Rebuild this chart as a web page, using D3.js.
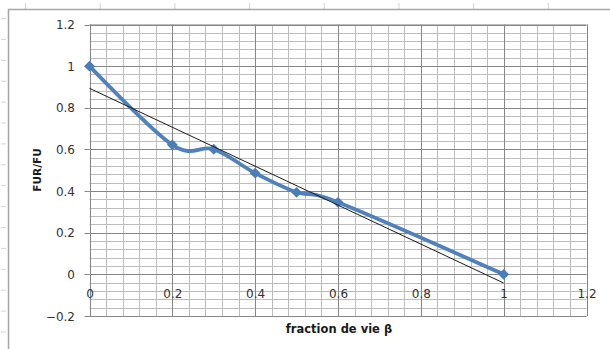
<!DOCTYPE html>
<html>
<head>
<meta charset="utf-8">
<script src="https://cdn.jsdelivr.net/npm/d3@7"></script>
<style>
  body { margin: 0; background: #fff; }
  svg { display: block; }
</style>
</head>
<body>
<div class="canvas"></div>
<script>
// data
var beta = [0, 0.2, 0.3, 0.4, 0.5, 0.6, 1];
var fur = [1, 0.622, 0.601, 0.486, 0.394, 0.346, 0];
var xTicks = [0, 0.2, 0.4, 0.6, 0.8, 1, 1.2];
var yTicks = [-0.2, 0, 0.2, 0.4, 0.6, 0.8, 1, 1.2];
var xTitle = "fraction de vie \u03b2";
var yTitle = "FUR/FU";

var svg = d3.select(".canvas").append("svg").attr("width", 610).attr("height", 349);

plot = { 'left': 89.5, 'right': 586.5, 'top': 24.5, 'bottom': 316 };

var x = d3.scaleLinear().domain([0, 1.2]).range([plot.left, plot.right]);
var y = d3.scaleLinear().domain([-0.2, 1.2]).range([plot.bottom, plot.top]);

// faint spreadsheet cell marks behind the chart frame
for (let i = 0; i < 8; i++) {
    svg.append("line")
        .attr("x1", 25.5 + i * 74.7).attr("x2", 25.5 + i * 74.7)
        .attr("y1", 3).attr("y2", 9)
        .attr("stroke", "#d4d4d4");
}
for (let i = 0; i < 16; i++) {
    svg.append("line")
        .attr("x1", 1).attr("x2", 6)
        .attr("y1", 18.5 + i * 20.9).attr("y2", 18.5 + i * 20.9)
        .attr("stroke", "#d4d4d4");
}

// chart frame (top and left edges visible)
svg.append("path")
    .attr("d", "M8.5,349 L8.5,9.5 L610,9.5")
    .attr("fill", "none")
    .attr("stroke", "#a6a6a6")
    .attr("stroke-width", 1.5);

const graph = svg.append("g");

// minor grid (0.04 steps)
var minorX = d3.range(0, 31).map(i => i * 0.04);
var minorY = d3.range(0, 36).map(i => -0.2 + i * 0.04);

graph.selectAll(".minx").data(minorX).enter().append("line")
    .attr("x1", d => Math.round(x(d)) + 0.5).attr("x2", d => Math.round(x(d)) + 0.5)
    .attr("y1", plot.top).attr("y2", plot.bottom)
    .attr("stroke", "#bdbdbd");
graph.selectAll(".miny").data(minorY).enter().append("line")
    .attr("x1", plot.left).attr("x2", plot.right)
    .attr("y1", d => Math.round(y(d)) + 0.5).attr("y2", d => Math.round(y(d)) + 0.5)
    .attr("stroke", "#bdbdbd");

// major grid
graph.selectAll(".majx").data(xTicks).enter().append("line")
    .attr("x1", d => Math.round(x(d)) + 0.5).attr("x2", d => Math.round(x(d)) + 0.5)
    .attr("y1", plot.top).attr("y2", plot.bottom)
    .attr("stroke", "#868686");
graph.selectAll(".majy").data(yTicks).enter().append("line")
    .attr("x1", plot.left).attr("x2", plot.right)
    .attr("y1", d => Math.round(y(d)) + 0.5).attr("y2", d => Math.round(y(d)) + 0.5)
    .attr("stroke", "#868686");

// y axis ticks + labels
graph.selectAll(".yt").data(yTicks).enter().append("line")
    .attr("x1", plot.left - 5).attr("x2", plot.left)
    .attr("y1", d => Math.round(y(d)) + 0.5).attr("y2", d => Math.round(y(d)) + 0.5)
    .attr("stroke", "#868686");
graph.selectAll(".yl").data(yTicks).enter().append("text")
    .text(d => d3.format("")(+d.toFixed(1)))
    .attr("x", 75)
    .attr("y", d => y(d) + 4.5)
    .attr("text-anchor", "end")
    .attr("font-family", "DejaVu Sans")
    .attr("font-size", "12px")
    .attr("fill", "#333");

// x labels sit inside the plot, below the zero line
graph.selectAll(".xl").data(xTicks).enter().append("text")
    .text(d => d3.format("")(+d.toFixed(1)))
    .attr("x", d => x(d) + 0.5)
    .attr("y", y(0) + 24)
    .attr("text-anchor", "middle")
    .attr("font-family", "DejaVu Sans")
    .attr("font-size", "12px")
    .attr("fill", "#333");

// linear trend line (least squares, as Excel does)
var mx = d3.mean(beta), my = d3.mean(fur);
var slope = d3.sum(beta, (b, i) => (b - mx) * (fur[i] - my)) / d3.sum(beta, b => (b - mx) * (b - mx));
var icpt = my - slope * mx;
var trendX = d3.extent(beta);

// data series, smoothed
var pts = beta.map((b, i) => [b, fur[i]]);
graph.append("path")
    .datum(pts)
    .attr("d", d3.line().x(d => x(d[0])).y(d => y(d[1])).curve(d3.curveCardinal.tension(0)))
    .attr("fill", "none")
    .attr("stroke", "#4f81bd")
    .attr("stroke-width", 3.8)
    .attr("stroke-linejoin", "round");

graph.selectAll(".mk").data(pts).enter().append("path")
    .attr("d", d3.symbol(d3.symbolDiamond2, 75))
    .attr("transform", d => "translate(" + x(d[0]) + "," + y(d[1]) + ")")
    .attr("fill", "#4a7ebb");

graph.append("line")
    .attr("x1", x(trendX[0])).attr("y1", y(icpt + slope * trendX[0]))
    .attr("x2", x(trendX[1])).attr("y2", y(icpt + slope * trendX[1]))
    .attr("stroke", "#1a1a1a")
    .attr("stroke-width", 1);

// axis titles
svg.append("text")
    .text(xTitle)
    .attr("x", 339)
    .attr("y", 333)
    .attr("text-anchor", "middle")
    .attr("font-family", "DejaVu Sans")
    .attr("font-weight", "bold")
    .attr("font-size", "11.5px")
    .attr("fill", "#1a1a1a");

svg.append("text")
    .text(yTitle)
    .attr("transform", "translate(41,170) rotate(-90)")
    .attr("text-anchor", "middle")
    .attr("font-family", "DejaVu Sans")
    .attr("font-weight", "bold")
    .attr("font-size", "10.5px")
    .attr("fill", "#1a1a1a");
</script>
</body>
</html>
